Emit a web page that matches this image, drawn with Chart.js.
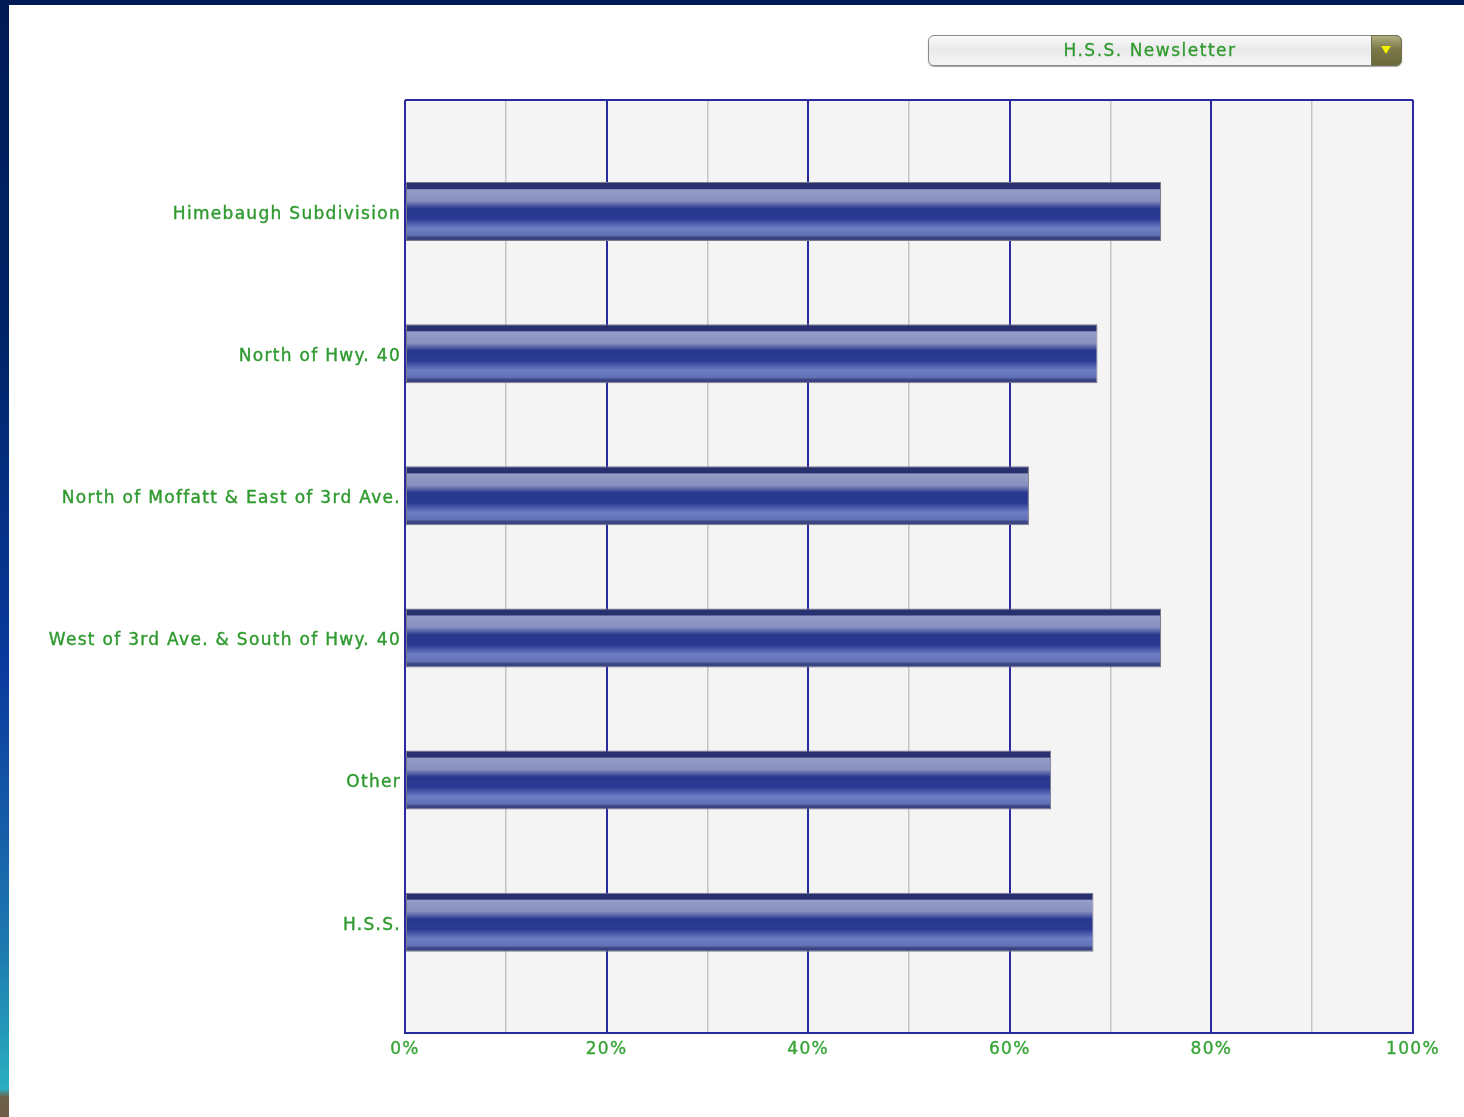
<!DOCTYPE html>
<html>
<head>
<meta charset="utf-8">
<script src="https://cdn.jsdelivr.net/npm/chart.js@4/dist/chart.umd.min.js"></script>
<style>
  html, body { margin: 0; padding: 0; }
  body { width: 1464px; height: 1117px; position: relative; overflow: hidden; background: #ffffff; }
  #topbar { position: absolute; left: 0; top: 0; width: 1464px; height: 5px; background: #001a55; }
  #leftbar { position: absolute; left: 0; top: 0; width: 9px; height: 1117px;
    background: linear-gradient(to bottom, #001a55 0%, #002468 30%, #0a3a9e 60%, #1e7ab0 85%, #2aaec0 97.5%, #6e6048 98.2%, #6e6048 100%); }
  #wrap { position: absolute; left: 0; top: 0; width: 1464px; height: 1117px; }
  #dropdown { position: absolute; left: 928px; top: 35px; width: 474px; height: 31px;
    border: 1px solid #8a8a8a; border-radius: 6px; box-sizing: border-box;
    background: linear-gradient(to bottom, #fbfbfb 0%, #e9e9e9 45%, #f6f6f6 100%);
    box-shadow: 0 1px 1px rgba(0,0,0,0.35);
    font-family: "DejaVu Sans", Verdana, sans-serif; font-size: 17px; color: #2e9a2e;
    letter-spacing: 1.5px; line-height: 29px; text-align: center; }
  #dropdown .txt { position: absolute; left: 0; right: 30px; top: 0; -webkit-text-stroke: 0.3px #2e9a2e; }
  #dropdown .btn { position: absolute; right: -1px; top: -1px; width: 31px; height: 31px;
    border-radius: 0 6px 6px 0; background: linear-gradient(to bottom, #b0ad80 0%, #7c7a4a 45%, #6a683a 100%);
    border: 1px solid #707050; box-sizing: border-box; }
  #dropdown .btn:after { content: ""; position: absolute; left: 9px; top: 10px;
    border-left: 5px solid transparent; border-right: 5px solid transparent; border-top: 8px solid #f0f000; }
</style>
</head>
<body>
<div id="topbar"></div>
<div id="leftbar"></div>
<div id="wrap"><canvas id="c" width="1464" height="1117"></canvas></div>
<div id="dropdown"><span class="txt">H.S.S. Newsletter</span><span class="btn"></span></div>
<script>
const categories = [
  "Himebaugh Subdivision",
  "North of Hwy. 40",
  "North of Moffatt & East of 3rd Ave.",
  "West of 3rd Ave. & South of Hwy. 40",
  "Other",
  "H.S.S."
];
const percentValues = [75.0, 68.7, 61.9, 75.0, 64.1, 68.3];
const xTickValues = [0, 20, 40, 60, 80, 100];

const GREEN = '#2e9a2e';
const NAVY = '#2a2aa0';

function barGradient(context) {
  const chart = context.chart;
  const ys = chart.scales.y;
  if (!ys || context.type !== 'data') return '#2a3a90';
  const c = ys.getPixelForValue(context.parsed.y);
  const spacing = Math.abs(ys.getPixelForValue(2) - ys.getPixelForValue(1));
  if (!isFinite(c) || !isFinite(spacing) || spacing === 0) return '#2a3a90';
  const h = spacing * 0.415;
  const g = chart.ctx.createLinearGradient(0, c - h / 2, 0, c + h / 2);
  g.addColorStop(0.00, '#283070');
  g.addColorStop(0.11, '#283070');
  g.addColorStop(0.13, '#959cc6');
  g.addColorStop(0.32, '#8890c0');
  g.addColorStop(0.45, '#27378e');
  g.addColorStop(0.62, '#2a3a92');
  g.addColorStop(0.78, '#6f7dc4');
  g.addColorStop(0.90, '#6270b6');
  g.addColorStop(0.94, '#3a4480');
  g.addColorStop(1.00, '#3a4480');
  return g;
}

const frame = {
  id: 'frame',
  beforeDraw(chart) {
    const a = chart.chartArea, ctx = chart.ctx;
    ctx.save();
    ctx.fillStyle = '#f4f4f4';
    ctx.fillRect(a.left, a.top, a.right - a.left, a.bottom - a.top);
    ctx.restore();
    ctx.letterSpacing = '1.3px';
  },
  beforeDatasetsDraw(chart) {
    const a = chart.chartArea, ctx = chart.ctx;
    ctx.save();
    ctx.strokeStyle = NAVY;
    ctx.lineWidth = 2;
    ctx.beginPath();
    ctx.moveTo(a.left, a.top);
    ctx.lineTo(a.right, a.top);
    ctx.stroke();
    ctx.restore();
  }
};

const chart = new Chart(document.getElementById('c'), {
  type: 'bar',
  data: {
    datasets: [{
      data: categories.map((name, i) => ({ x: percentValues[i], y: i + 1 })),
      backgroundColor: barGradient,
      borderColor: '#7a7a88',
      borderWidth: 1,
      borderSkipped: false,
      barPercentage: 0.415,
      categoryPercentage: 1
    }]
  },
  options: {
    indexAxis: 'y',
    responsive: false,
    animation: false,
    events: [],
    layout: { padding: { top: 100, right: 51, left: 0, bottom: 0 } },
    plugins: { legend: { display: false }, tooltip: { enabled: false } },
    scales: {
      x: {
        type: 'linear',
        min: 0, max: 100,
        ticks: {
          stepSize: 10,
          autoSkip: false,
          maxRotation: 0,
          padding: 6,
          color: '#3aa63a',
          textStrokeColor: '#3aa63a',
          textStrokeWidth: 0.4,
          font: { family: 'DejaVu Sans', size: 17 },
          callback: (v) => xTickValues.includes(v) ? v + '%' : ''
        },
        grid: {
          drawTicks: false,
          color: (ctx) => (ctx.tick && ctx.tick.value % 20 === 0) ? NAVY : '#c4c4c4',
          lineWidth: (ctx) => (ctx.tick && ctx.tick.value % 20 === 0) ? 2 : 1.5
        },
        border: { display: true, color: NAVY, width: 2 },
        afterFit: (scale) => { scale.height = 84; }
      },
      y: {
        type: 'linear',
        reverse: true,
        offset: false,
        min: 0.215,
        max: 6.78,
        afterBuildTicks: (scale) => { scale.ticks = categories.map((_, i) => ({ value: i + 1 })); },
        ticks: {
          autoSkip: false,
          padding: 4,
          labelOffset: 3,
          color: GREEN,
          textStrokeColor: GREEN,
          textStrokeWidth: 0.4,
          font: { family: 'DejaVu Sans', size: 17 },
          callback: (v) => categories[v - 1]
        },
        grid: { display: false, drawTicks: false },
        border: { display: false },
        afterFit: (scale) => { scale.width = 405; }
      }
    }
  },
  plugins: [frame]
});
chart.update();
</script>
</body>
</html>
